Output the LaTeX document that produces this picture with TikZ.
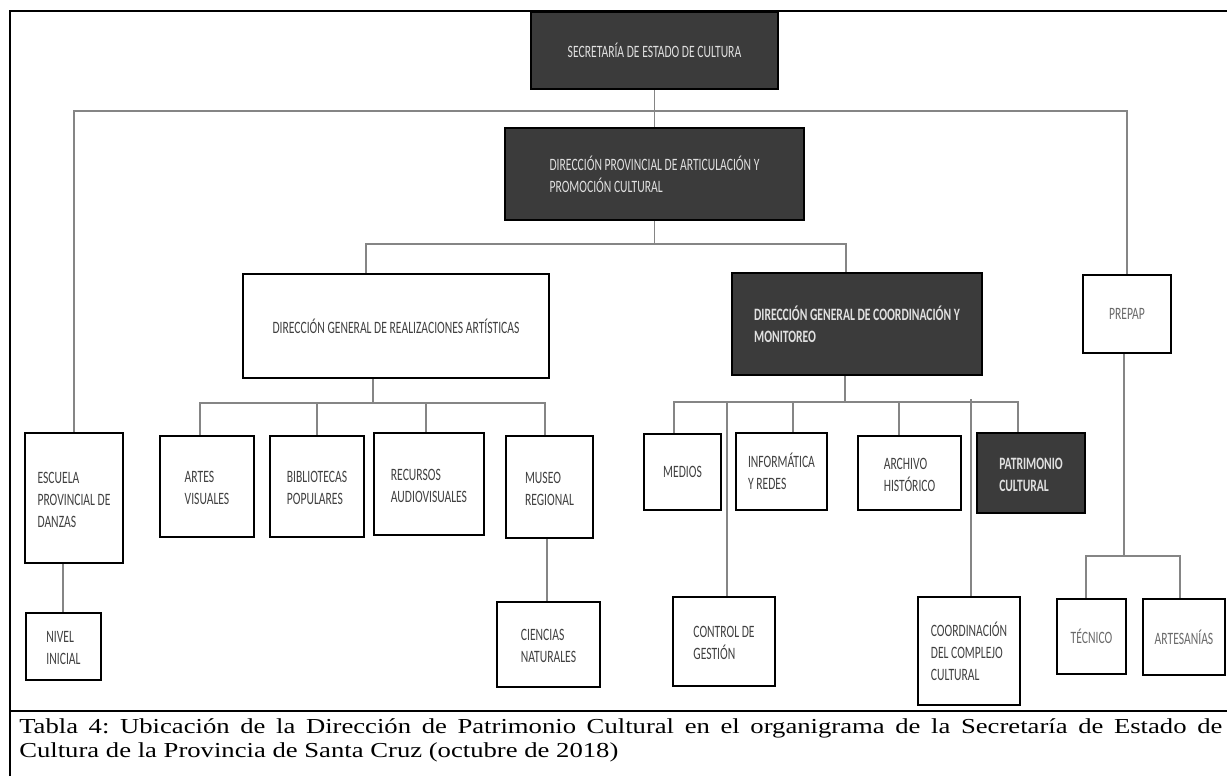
\documentclass[tikz,border=0pt]{standalone}
\usepackage{fontspec}
\newfontfamily\bxfont[FakeStretch=0.67]{Carlito}
\newfontfamily\capfont[FakeStretch=1.25]{Liberation Serif}
\definecolor{dkfill}{HTML}{3B3B3B}
\definecolor{dktxt}{HTML}{E0E0E0}
\definecolor{bxtxt}{HTML}{404040}
\definecolor{ltxt}{HTML}{6A6A6A}
\definecolor{concol}{HTML}{858585}
\newcommand{\tl}[1]{\raisebox{-2.2pt}[\height][\depth]{\begin{tabular}{@{}l@{}}#1\end{tabular}}}
% \bx{name}{style}{x1}{y1}{x2}{y2}{text}
\newcommand{\bx}[7]{\node[#2, minimum width={(#5-#3)*0.75pt}, minimum height={(#6-#4)*0.75pt}]
   (#1) at ({(#3+#5)/2},{(#4+#6)/2}) {#7};}
\tikzset{
  orgbox/.style={rectangle, draw=black, line width=1.9pt, fill=white, inner sep=0pt, text=bxtxt,
                 font=\bxfont\fontsize{13}{16.5}\selectfont},
  darkbox/.style={orgbox, fill=dkfill, line width=1.5pt, text=dktxt},
  boldbox/.style={darkbox, font=\bxfont\bfseries\fontsize{13}{16.5}\selectfont},
  lightbox/.style={orgbox, line width=1.6pt, text=ltxt},
  conn/.style={draw=concol, line width=0.9pt},
  framerule/.style={draw=black, line width=1.6pt},
}
\begin{document}
\begin{tikzpicture}[x=0.75pt,y=-0.75pt]
\useasboundingbox (0,0) rectangle (1227,776);
% frame
\coordinate (fTL) at (10,11);
\coordinate (fTR) at (1227,11);
\coordinate (fBL) at (10,776);
\coordinate (sL) at (10,711);
\coordinate (sR) at (1227,711);
\draw[framerule] (fBL) -- (fTL) -- (fTR);
\draw[framerule] (sL) -- (sR);

% level 0-1
\bx{sec}{darkbox}{531}{12}{778}{89}{SECRETARÍA DE ESTADO DE CULTURA}
\bx{dpa}{darkbox}{505}{128}{804}{220}{\tl{DIRECCIÓN PROVINCIAL DE ARTICULACIÓN Y\\PROMOCIÓN CULTURAL}}

% level 2
\bx{dgra}{orgbox}{243}{274}{549}{378}{DIRECCIÓN GENERAL DE REALIZACIONES ARTÍSTICAS}
\bx{dgcm}{boldbox}{732}{273}{982}{375}{\tl{DIRECCIÓN GENERAL DE COORDINACIÓN Y\\MONITOREO}}
\bx{prepap}{lightbox}{1083}{275}{1171}{353}{PREPAP}

% level 3 left
\bx{escuela}{orgbox}{25}{433}{123}{563}{\tl{ESCUELA\\PROVINCIAL DE\\DANZAS}}
\bx{nivel}{orgbox}{26}{613}{101}{680}{\tl{NIVEL\\INICIAL}\hspace{20pt}}
\bx{artes}{orgbox}{160}{436}{254}{537}{\tl{ARTES\\VISUALES}}
\bx{biblio}{orgbox}{270}{436}{364}{537}{\tl{BIBLIOTECAS\\POPULARES}}
\bx{recursos}{orgbox}{374}{433}{484}{535}{\tl{RECURSOS\\AUDIOVISUALES}}
\bx{museo}{orgbox}{506}{436}{593}{538}{\tl{MUSEO\\REGIONAL}}
\bx{ciencias}{orgbox}{497}{602}{600}{687}{\tl{CIENCIAS\\NATURALES}}

% level 3 right
\bx{medios}{orgbox}{644}{434}{721}{510}{MEDIOS}
\bx{infor}{orgbox}{736}{433}{827}{510}{\tl{INFORMÁTICA\\Y REDES}}
\bx{archivo}{orgbox}{858}{436}{961}{510}{\tl{ARCHIVO\\HISTÓRICO}}
\bx{patri}{boldbox}{977}{433}{1085}{513}{\tl{PATRIMONIO\\CULTURAL}}
\bx{control}{orgbox}{673}{597}{775}{686}{\tl{CONTROL DE\\GESTIÓN}}
\bx{coord}{orgbox}{918}{597}{1020}{705}{\tl{COORDINACIÓN\\DEL COMPLEJO\\CULTURAL}}
\bx{tecnico}{lightbox}{1057}{599}{1126}{674}{TÉCNICO}
\bx{artesanias}{lightbox}{1143}{599}{1225}{675}{ARTESANÍAS}

% connectors
\coordinate (ytop) at (0,111);
\draw[conn] (sec.south) -- (dpa.north);
\draw[conn] (escuela.north) |- (ytop -| sec.south) -| (prepap.north);

\coordinate (j1) at (366,244);
\coordinate (j2) at (846,244);
\draw[conn] (dpa.south) -- (dpa.south |- j1);
\draw[conn] (dgra.north -| j1) -- (j1) -- (j2) -- (dgcm.north -| j2);

\coordinate (k0) at (373,403);
\coordinate (k1) at (200,403);
\coordinate (k2) at (317,403);
\coordinate (k3) at (426,403);
\coordinate (k4) at (545,403);
\draw[conn] (dgra.south -| k0) -- (k0);
\draw[conn] (artes.north -| k1) -- (k1) -- (k4) -- (museo.north -| k4);
\draw[conn] (biblio.north -| k2) -- (k2);
\draw[conn] (recursos.north -| k3) -- (k3);

\coordinate (e1) at (63,0);
\draw[conn] (escuela.south -| e1) -- (nivel.north -| e1);
\coordinate (m1) at (547,0);
\draw[conn] (museo.south -| m1) -- (ciencias.north -| m1);

\coordinate (r0) at (845,402);
\coordinate (r1) at (674,402);
\coordinate (r2) at (793,402);
\coordinate (r3) at (899,402);
\coordinate (r4) at (1018,402);
\coordinate (rc) at (727,402);
\coordinate (rk) at (971,399);
\draw[conn] (dgcm.south -| r0) -- (r0);
\draw[conn] (medios.north -| r1) -- (r1) -- (r4) -- (patri.north -| r4);
\draw[conn] (infor.north -| r2) -- (r2);
\draw[conn] (archivo.north -| r3) -- (r3);
\draw[conn] (rc) -- (control.north -| rc);
\draw[conn] (rk) -- (coord.north -| rk);

\coordinate (p0) at (1124,556);
\coordinate (p1) at (1086,556);
\coordinate (p2) at (1180,556);
\draw[conn] (prepap.south -| p0) -- (p0);
\draw[conn] (tecnico.north -| p1) -- (p1) -- (p2) -- (artesanias.north -| p2);

% caption
\node[anchor=north west, inner sep=0pt, align=left, font=\capfont\fontsize{16}{18}\selectfont\frenchspacing] (cap) at (19,718.3)
  {\makebox[902.25pt][s]{Tabla 4: Ubicación de la Dirección de Patrimonio Cultural en el organigrama de la Secretaría de Estado de}\\
   Cultura de la Provincia de Santa Cruz (octubre de 2018)};
\end{tikzpicture}
\end{document}
